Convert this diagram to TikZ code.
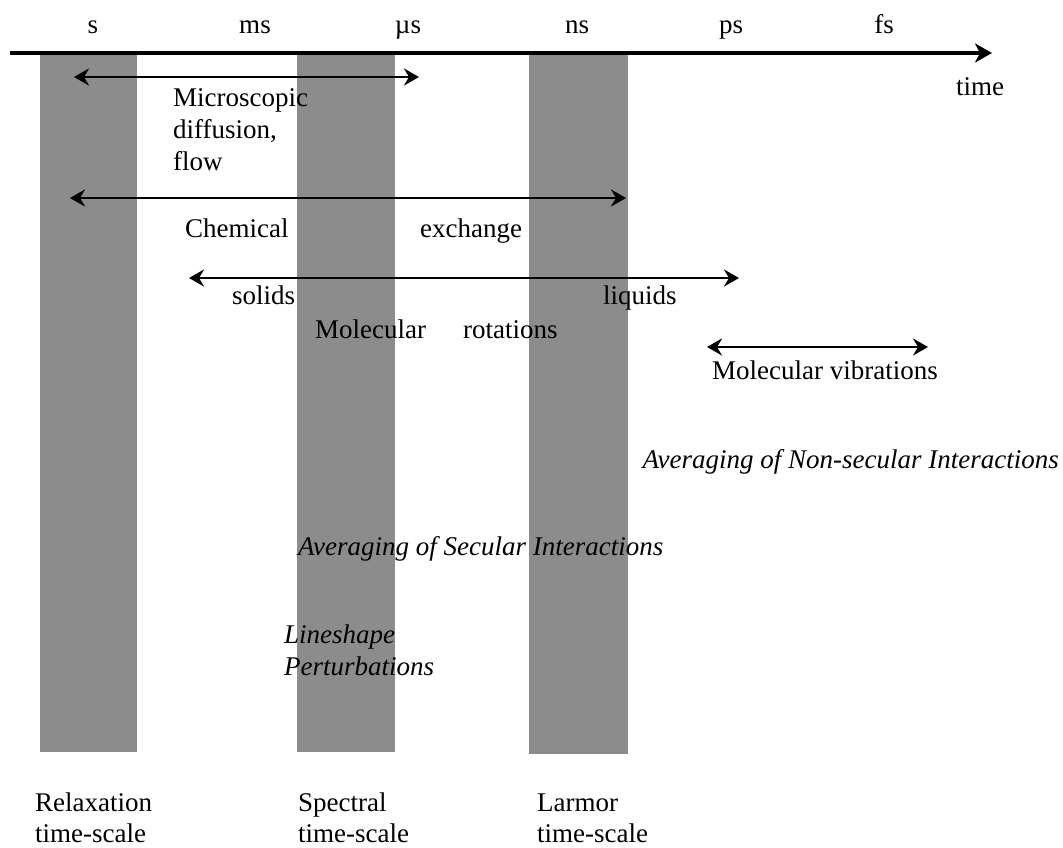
\documentclass[tikz,border=0pt]{standalone}
\usepackage{fontspec}
\setmainfont{Liberation Serif}
\usetikzlibrary{arrows.meta}
\begin{document}
\begin{tikzpicture}[x=1pt,y=-1pt,
  lbl/.style={font=\fontsize{27}{31}\selectfont, inner sep=0pt, anchor=base},
  lblw/.style={lbl, anchor=base west},
  lbli/.style={lblw, font=\fontsize{27}{31}\selectfont\itshape},
  band/.style={fill=black!45, draw=none, inner sep=0pt, anchor=north west},
  axis/.style={line width=3.3pt, -{Stealth[length=17pt,width=19pt,inset=5pt]}},
  dbl/.style={line width=2.7pt, {Stealth[length=15pt,width=17pt,inset=5pt]}-{Stealth[length=15pt,width=17pt,inset=5pt]}}
]
\useasboundingbox (0,0) rectangle (1063,847);
% bands
\node[band, minimum width=97pt, minimum height=697pt] (relax) at (40,55) {};
\node[band, minimum width=98pt, minimum height=697pt] (spec) at (297,55) {};
\node[band, minimum width=99pt, minimum height=699pt] (larm) at (529,55) {};
% time axis
\coordinate (ax0) at (10,53);
\coordinate (ax1) at (992,53);
\draw[axis] (ax0) -- (ax1);
\node[lbl] (ls) at (93,33) {s};
\node[lbl] (lms) at (255,33) {ms};
\node[lbl] (lus) at (408,33) {µs};
\node[lbl] (lns) at (577,33) {ns};
\node[lbl] (lps) at (731,33) {ps};
\node[lbl] (lfs) at (884,33) {fs};
\node[lbl] (time) at (980,95) {time};
% microscopic diffusion
\coordinate (m0) at (74,77);
\coordinate (m1) at (419,77);
\draw[dbl] (m0) -- (m1);
\node[lblw] (mic1) at (173,106) {Microscopic};
\node[lblw] (mic2) at (173,138) {diffusion,};
\node[lblw] (mic3) at (173,170) {flow};
% chemical exchange
\coordinate (c0) at (70,198);
\coordinate (c1) at (626,198);
\draw[dbl] (c0) -- (c1);
\node[lblw] (chem) at (185,237) {Chemical};
\node[lblw] (exch) at (420,237) {exchange};
% molecular rotations
\coordinate (r0) at (189,278);
\coordinate (r1) at (739,278);
\draw[dbl] (r0) -- (r1);
\node[lblw] (sol) at (232,304) {solids};
\node[lblw] (liq) at (603,304) {liquids};
\node[lblw] (mol) at (315,338) {Molecular};
\node[lblw] (rot) at (463,338) {rotations};
% molecular vibrations
\coordinate (v0) at (707,347);
\coordinate (v1) at (928,347);
\draw[dbl] (v0) -- (v1);
\node[lblw] (vib) at (712,379) {Molecular vibrations};
% averaging
\node[lbli, anchor=base east] (nonsec) at (1059,468) {Averaging of Non-secular Interactions};
\node[lbli] (sec) at (298,555) {Averaging of Secular Interactions};
\node[lbli] (line1) at (284,643) {Lineshape};
\node[lbli] (line2) at (284,675) {Perturbations};
% bottom labels
\node[lblw] (b1a) at (35,811) {Relaxation};
\node[lblw] (b1b) at (35,842) {time-scale};
\node[lblw] (b2a) at (298,811) {Spectral};
\node[lblw] (b2b) at (298,842) {time-scale};
\node[lblw] (b3a) at (537,811) {Larmor};
\node[lblw] (b3b) at (537,842) {time-scale};
\end{tikzpicture}
\end{document}
